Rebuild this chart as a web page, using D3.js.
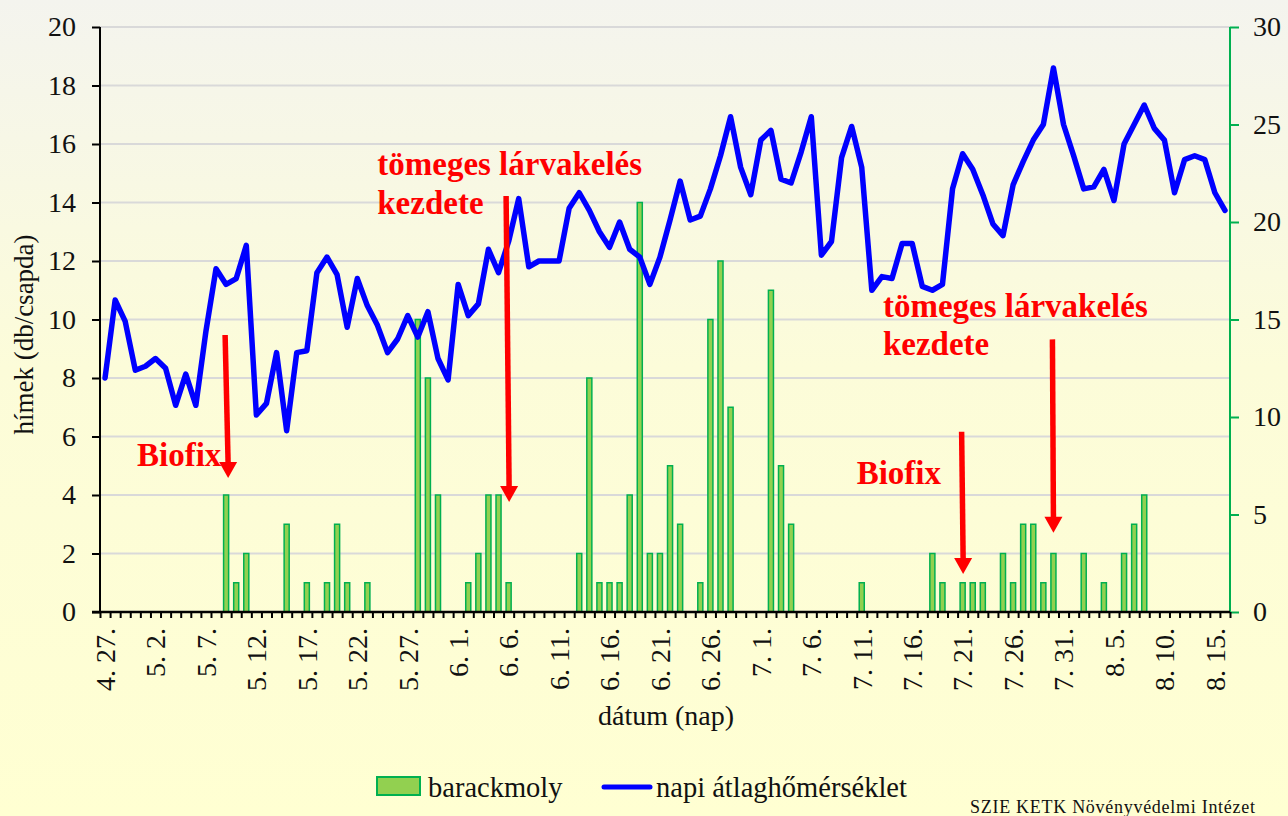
<!DOCTYPE html>
<html><head><meta charset="utf-8">
<script src="https://cdn.jsdelivr.net/npm/d3@7"></script>
<style>html,body{margin:0;padding:0;background:#fff}svg{display:block}</style>
</head><body>
<svg id="chart" width="1288" height="816"></svg>
<script>
// ---- data ----
const startDay = new Date(2000, 3, 27);
const categories = d3.range(112).map(i => {
  const d = d3.timeDay.offset(startDay, i);
  return `${d.getMonth() + 1}. ${d.getDate()}.`;
});
const tickLabels = ["4. 27.","5. 2.","5. 7.","5. 12.","5. 17.","5. 22.","5. 27.","6. 1.","6. 6.","6. 11.","6. 16.","6. 21.","6. 26.","7. 1.","7. 6.","7. 11.","7. 16.","7. 21.","7. 26.","7. 31.","8. 5.","8. 10.","8. 15."];
const leftTicks = [0,2,4,6,8,10,12,14,16,18,20];
const rightTicks = [0,5,10,15,20,25,30];
// barackmoly (hímek db/csapda) – left axis
const barackmoly = [
  0,0,0,0,0,0,0,0,0,0,
  0,0,4,1,2,0,0,0,3,0,
  1,0,1,3,1,0,1,0,0,0,
  0,10,8,4,0,0,1,2,4,4,
  1,0,0,0,0,0,0,2,8,1,
  1,1,4,14,2,2,5,3,0,1,
  10,12,7,0,0,0,11,5,3,0,
  0,0,0,0,0,1,0,0,0,0,
  0,0,2,1,0,1,1,1,0,2,
  1,3,3,1,2,0,0,2,0,1,
  0,2,3,4,0,0,0,0,0,0,
  0,0
];
// napi átlaghőmérséklet – right axis
const temperature = [
  12.0,16.0,14.9,12.4,12.6,13.0,12.5,10.6,12.2,10.6,
  14.4,17.6,16.8,17.1,18.8,10.1,10.7,13.3,9.3,13.3,
  13.4,17.4,18.2,17.3,14.6,17.1,15.7,14.7,13.3,14.0,
  15.2,14.1,15.4,13.0,11.9,16.8,15.2,15.8,18.6,17.4,
  19.0,21.2,17.7,18.0,18.0,18.0,20.7,21.5,20.6,19.5,
  18.7,20.0,18.6,18.2,16.8,18.2,20.1,22.1,20.1,20.3,
  21.7,23.4,25.4,22.8,21.4,24.2,24.7,22.2,22.0,23.6,
  25.4,18.3,19.0,23.3,24.9,22.8,16.5,17.2,17.1,18.9,
  18.9,16.7,16.5,16.8,21.7,23.5,22.7,21.4,19.9,19.3,
  21.9,23.1,24.2,25.0,27.9,25.0,23.4,21.7,21.8,22.7,
  21.1,24.0,25.0,26.0,24.8,24.2,21.5,23.2,23.4,23.2,
  21.5,20.6
];
// annotations (category index, left-axis value)
const arrowMarks = [
  {x0: 11.9, y0: 9.47, x1: 12.2, y1: 4.58},
  {x0: 39.75, y0: 14.22, x1: 40.05, y1: 3.76},
  {x0: 84.9, y0: 6.16, x1: 85.05, y1: 1.3},
  {x0: 93.9, y0: 9.32, x1: 94.0, y1: 2.71}
];
const labelMarks = [
  {text: "Biofix", x: 3.17, y: 4.99},
  {text: "tömeges lárvakelés", x: 26.98, y: 14.94},
  {text: "kezdete", x: 26.98, y: 13.61},
  {text: "tömeges lárvakelés", x: 77.1, y: 10.1},
  {text: "kezdete", x: 77.1, y: 8.79},
  {text: "Biofix", x: 74.5, y: 4.38}
];

// ---- layout ----
const W = 1288, H = 816;
const m = {left: 100, right: 58, top: 27, bottom: 204};
const x0 = m.left, x1 = W - m.right, yTop = m.top, yBot = H - m.bottom;
const FONT = "'Liberation Serif','Times New Roman',serif";

const svg = d3.select("#chart");
const defs = svg.append("defs");
const grad = defs.append("linearGradient").attr("id","bg").attr("x1",0).attr("y1",0).attr("x2",0).attr("y2",1);
grad.append("stop").attr("offset","0%").attr("stop-color","#f4f4ee");
grad.append("stop").attr("offset","45%").attr("stop-color","#fcfcd9");
grad.append("stop").attr("offset","100%").attr("stop-color","#ffffd2");
svg.append("rect").attr("width",W).attr("height",H).attr("fill","url(#bg)");

const xb = d3.scaleBand().domain(d3.range(categories.length)).range([x0, x1]).paddingInner(0.5).paddingOuter(0.25);
const xl = d3.scaleLinear().domain([-0.5, categories.length - 0.5]).range([x0, x1]);
const yL = d3.scaleLinear().domain([0, 20]).range([yBot, yTop]);
const yR = d3.scaleLinear().domain([0, 30]).range([yBot, yTop]);

// gridlines
svg.append("g").selectAll("line").data(leftTicks.filter(d => d > 0)).join("line")
  .attr("x1", x0).attr("x2", x1).attr("y1", d => yL(d)).attr("y2", d => yL(d))
  .attr("stroke", "#d9d9d9").attr("stroke-width", 2);

// bars
svg.append("g").selectAll("rect").data(barackmoly.map((v, i) => ({v, i})).filter(d => d.v > 0)).join("rect")
  .attr("x", d => xb(d.i)).attr("width", xb.bandwidth())
  .attr("y", d => yL(d.v)).attr("height", d => yL(0) - yL(d.v))
  .attr("fill", "#92d050").attr("stroke", "#00b050").attr("stroke-width", 1.5);

// line
const line = d3.line().x((d, i) => xl(i)).y(d => yR(d));
svg.append("path").datum(temperature).attr("d", line)
  .attr("fill", "none").attr("stroke", "#0000ff").attr("stroke-width", 5.5)
  .attr("stroke-linejoin", "round").attr("stroke-linecap", "round");

// left axis
const gL = svg.append("g").attr("transform", `translate(${x0},0)`)
  .call(d3.axisLeft(yL).tickValues(leftTicks).tickSize(8).tickPadding(16).tickFormat(d3.format("d")));
gL.select(".domain").attr("stroke", "#000").attr("stroke-width", 2).attr("d", `M0,${yTop}V${yBot}`);
gL.selectAll(".tick line").attr("stroke", "#000").attr("stroke-width", 2);
gL.selectAll(".tick text").attr("font-family", FONT).attr("font-size", 28).attr("fill", "#111");

// right axis
const gR = svg.append("g").attr("transform", `translate(${x1},0)`)
  .call(d3.axisRight(yR).tickValues(rightTicks).tickSize(9).tickPadding(14).tickFormat(d3.format("d")));
gR.select(".domain").attr("stroke", "#00b050").attr("stroke-width", 2).attr("d", `M0,${yTop}V${yBot}`);
gR.selectAll(".tick line").attr("stroke", "#00b050").attr("stroke-width", 2);
gR.selectAll(".tick text").attr("font-family", FONT).attr("font-size", 28).attr("fill", "#111");

// bottom axis (ticks at category boundaries)
const gB = svg.append("g").attr("transform", `translate(0,${yBot})`)
  .call(d3.axisBottom(xl).tickValues(d3.range(categories.length + 1).map(i => i - 0.5)).tickSize(6).tickFormat(""));
gB.select(".domain").attr("stroke", "#000").attr("stroke-width", 2.5).attr("d", `M${x0 - 8},0H${x1}`);
gB.selectAll(".tick line").attr("stroke", "#000").attr("stroke-width", 2);

// x tick labels (every 5th category)
svg.append("g").selectAll("text").data(tickLabels).join("text")
  .attr("transform", (d, k) => `translate(${xl(k * 5)},${yBot + 16}) rotate(-90)`)
  .attr("dy", "0.35em").attr("text-anchor", "end")
  .attr("font-family", FONT).attr("font-size", 28).attr("fill", "#111")
  .text(d => d);

// axis titles
svg.append("text").attr("transform", `translate(33,${(yTop + yBot) / 2 + 15}) rotate(-90)`)
  .attr("text-anchor", "middle").attr("font-family", FONT).attr("font-size", 27).attr("fill", "#111")
  .text("hímek (db/csapda)");
svg.append("text").attr("x", 666).attr("y", 725).attr("text-anchor", "middle")
  .attr("font-family", FONT).attr("font-size", 28).attr("fill", "#111").text("dátum (nap)");

// annotations
const gA = svg.append("g");
arrowMarks.forEach(a => {
  const sx = xl(a.x0), sy = yL(a.y0), tx = xl(a.x1), ty = yL(a.y1);
  const headL = 16, headW = 9;
  gA.append("line").attr("x1", sx).attr("y1", sy).attr("x2", tx).attr("y2", ty - headL + 2)
    .attr("stroke", "#ff0000").attr("stroke-width", 5.5);
  gA.append("path").attr("d", `M${tx - headW},${ty - headL}L${tx + headW},${ty - headL}L${tx},${ty}Z`)
    .attr("fill", "#ff0000");
});
gA.selectAll("text").data(labelMarks).join("text")
  .attr("x", d => xl(d.x)).attr("y", d => yL(d.y))
  .attr("font-family", FONT).attr("font-size", 33).attr("font-weight", "bold").attr("fill", "#ff0000")
  .text(d => d.text);

// legend
const lg = svg.append("g");
lg.append("rect").attr("x", 377).attr("y", 777).attr("width", 43).attr("height", 18)
  .attr("fill", "#92d050").attr("stroke", "#00b050").attr("stroke-width", 2);
lg.append("text").attr("x", 428).attr("y", 797).attr("font-family", FONT).attr("font-size", 28.5).attr("fill", "#111").text("barackmoly");
lg.append("line").attr("x1", 604).attr("x2", 650).attr("y1", 787).attr("y2", 787).attr("stroke", "#0000ff").attr("stroke-width", 5).attr("stroke-linecap", "round");
lg.append("text").attr("x", 656).attr("y", 797).attr("font-family", FONT).attr("font-size", 28.5).attr("fill", "#111").text("napi átlaghőmérséklet");
svg.append("text").attr("x", 970).attr("y", 813).attr("font-family", FONT).attr("font-size", 18).attr("fill", "#111")
  .attr("textLength", 285).text("SZIE KETK Növényvédelmi Intézet");
</script>
</body></html>
